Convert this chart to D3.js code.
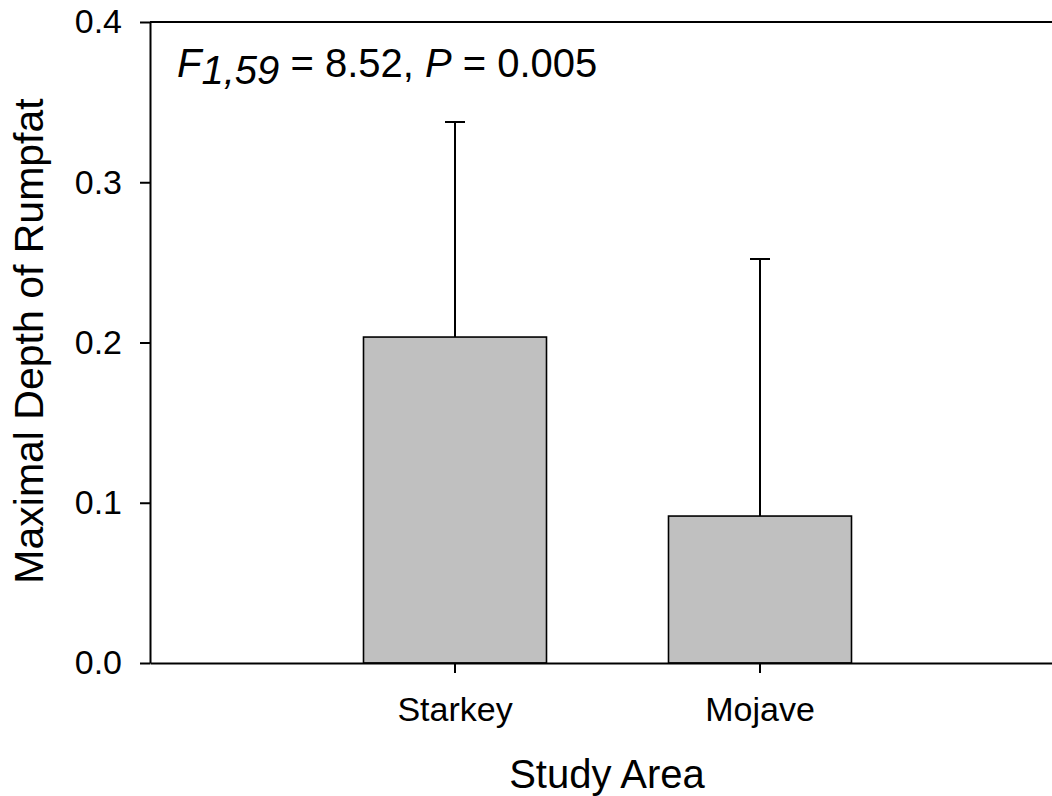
<!DOCTYPE html>
<html>
<head>
<script src="https://cdn.jsdelivr.net/npm/d3@7"></script>
<style>
  body { margin: 0; background: #fff; }
  svg { font-family: "Liberation Sans", Arial, sans-serif; }
  .axis text { font-size: 34px; fill: #000; }
  .axis path, .axis line { stroke: #000; stroke-width: 2px; }
</style>
</head>
<body>
<div id="chart"></div>
<script>
var areas = ["Starkey", "Mojave"];
var means = [0.2034, 0.0917];
var sds = [0.1342, 0.1604];
var yTicks = [0.0, 0.1, 0.2, 0.3, 0.4];

var W = 1052, H = 796;
var margin = {top: 22, right: -13, bottom: 133, left: 150};
var width = W - margin.left - margin.right,
    height = H - margin.top - margin.bottom;

var svg = d3.select("#chart").append("svg")
  .attr("width", W).attr("height", H)
  .style("overflow", "hidden");

var g = svg.append("g")
  .attr("transform", "translate(" + margin.left + "," + margin.top + ")");

var x = d3.scaleBand().domain(areas).range([0, width])
  .paddingInner(0.4).paddingOuter(0.7);
var y = d3.scaleLinear().domain([0, 0.4]).range([height, 0]);

// bars
g.selectAll(".bar").data(areas).enter().append("rect")
  .attr("class", "bar")
  .attr("x", function(d) { return x(d); })
  .attr("y", function(d, i) { return y(means[i]); })
  .attr("width", x.bandwidth())
  .attr("height", function(d, i) { return y(0) - y(means[i]); })
  .attr("fill", "#c0c0c0")
  .attr("stroke", "#000")
  .attr("stroke-width", 1.6);

// error bars (upper only)
var err = g.selectAll(".err").data(areas).enter().append("g").attr("class", "err");
err.append("line")
  .attr("x1", function(d) { return x(d) + x.bandwidth() / 2; })
  .attr("x2", function(d) { return x(d) + x.bandwidth() / 2; })
  .attr("y1", function(d, i) { return y(means[i]); })
  .attr("y2", function(d, i) { return y(means[i] + sds[i]); })
  .attr("stroke", "#000").attr("stroke-width", 2);
err.append("line")
  .attr("x1", function(d) { return x(d) + x.bandwidth() / 2 - 10; })
  .attr("x2", function(d) { return x(d) + x.bandwidth() / 2 + 10; })
  .attr("y1", function(d, i) { return y(means[i] + sds[i]); })
  .attr("y2", function(d, i) { return y(means[i] + sds[i]); })
  .attr("stroke", "#000").attr("stroke-width", 2);

// axes
g.append("g").attr("class", "axis")
  .call(d3.axisLeft(y).tickValues(yTicks).tickFormat(d3.format(".1f"))
    .tickSize(10).tickSizeOuter(0).tickPadding(18));

g.append("g").attr("class", "axis")
  .attr("transform", "translate(0," + height + ")")
  .call(d3.axisBottom(x).tickSize(10).tickSizeOuter(0).tickPadding(24));

// top frame line
g.append("line")
  .attr("x1", 0).attr("x2", width).attr("y1", 0).attr("y2", 0)
  .attr("stroke", "#000").attr("stroke-width", 2);

// axis titles
svg.append("text")
  .attr("x", 607).attr("y", 788)
  .attr("text-anchor", "middle")
  .style("font-size", "40px")
  .text("Study Area");

svg.append("text")
  .attr("transform", "translate(43,341) rotate(-90)")
  .attr("text-anchor", "middle")
  .style("font-size", "41px")
  .text("Maximal Depth of Rumpfat");

// statistics annotation
var ann = svg.append("text")
  .attr("x", 177).attr("y", 77)
  .style("font-size", "40px");
ann.append("tspan").style("font-style", "italic").text("F");
ann.append("tspan").style("font-style", "italic").attr("dy", 7).text("1,59");
ann.append("tspan").attr("dy", -7).text(" = 8.52, ");
ann.append("tspan").style("font-style", "italic").text("P");
ann.append("tspan").text(" = 0.005");
</script>
</body>
</html>
